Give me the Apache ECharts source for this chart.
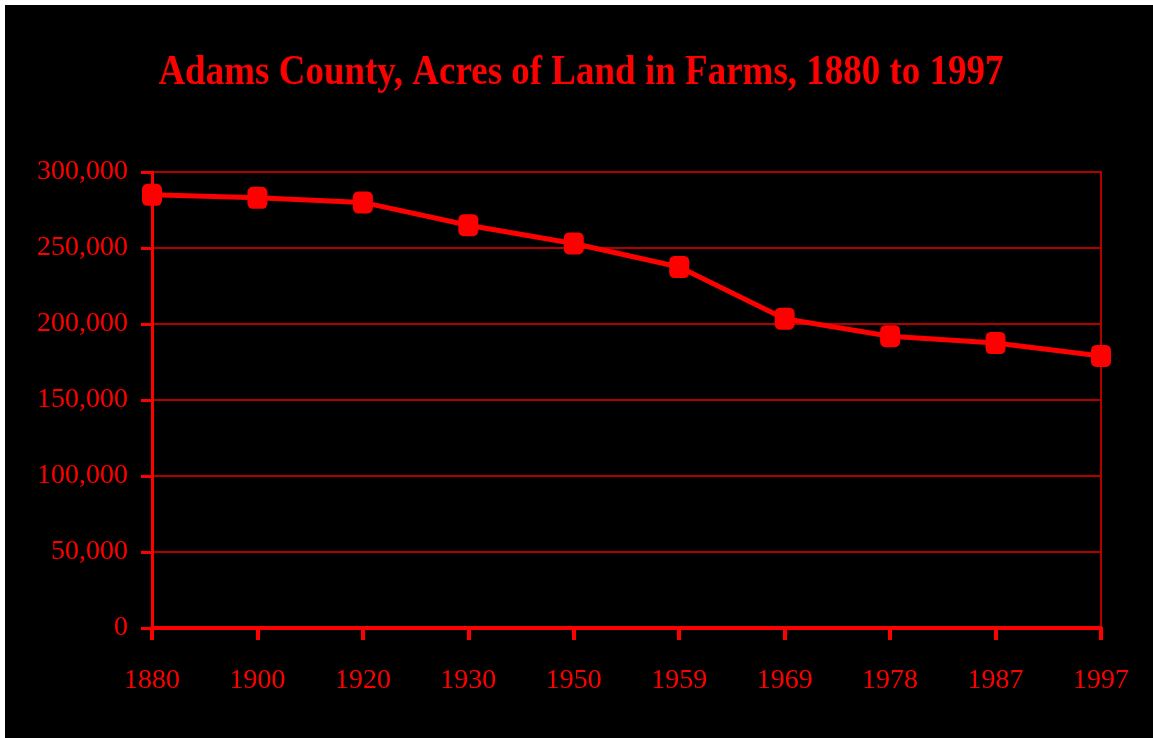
<!DOCTYPE html>
<html>
<head>
<meta charset="utf-8">
<script src="https://cdn.jsdelivr.net/npm/echarts@6/dist/echarts.min.js"></script>
<style>
  html, body { margin: 0; padding: 0; background: #ffffff; }
  #chart { position: absolute; left: 5px; top: 5px; width: 1148px; height: 733px; background: #000000; }
</style>
</head>
<body>
<div id="chart"></div>
<script>
const titleText = 'Adams County, Acres of Land in Farms, 1880 to 1997';
const years = ['1880', '1900', '1920', '1930', '1950', '1959', '1969', '1978', '1987', '1997'];
const acres = [285000, 283000, 280000, 265000, 253000, 237500, 203500, 192000, 187500, 179000];
const yTicks = { min: 0, max: 300000, interval: 50000 };

const chart = echarts.init(document.getElementById('chart'), null, { renderer: 'canvas' });
const font = '"Liberation Serif", "Times New Roman", serif';
chart.setOption({
  backgroundColor: '#000000',
  animation: false,
  graphic: [{
    type: 'text',
    x: 576,
    y: 68,
    scaleX: 0.925,
    scaleY: 1.05,
    originX: 0,
    style: {
      text: titleText,
      fill: '#ff0000',
      font: 'bold 40px ' + font,
      align: 'center',
      verticalAlign: 'middle'
    }
  }],
  grid: {
    left: 147, right: 52, top: 167, bottom: 110,
    show: true, borderColor: '#b00000', borderWidth: 2, backgroundColor: 'transparent'
  },
  xAxis: {
    type: 'category',
    data: years,
    boundaryGap: false,
    axisLine: { lineStyle: { color: '#ff0000', width: 4 } },
    axisTick: { show: true, length: 12, lineStyle: { color: '#ff0000', width: 4 } },
    axisLabel: { color: '#ff0000', fontFamily: font, fontSize: 28, margin: 39 },
    splitLine: { show: false }
  },
  yAxis: {
    type: 'value',
    min: yTicks.min, max: yTicks.max, interval: yTicks.interval,
    axisLine: { show: true, lineStyle: { color: '#ff0000', width: 3 } },
    axisTick: { show: true, length: 11, lineStyle: { color: '#ff0000', width: 3 } },
    axisLabel: {
      color: '#ff0000', fontFamily: font, fontSize: 28, margin: 24,
      formatter: v => v.toLocaleString('en-US')
    },
    splitLine: { show: true, lineStyle: { color: '#b00000', width: 2 } }
  },
  series: [{
    type: 'line',
    data: acres,
    symbol: 'roundRect',
    symbolSize: [20, 22],
    itemStyle: { color: '#ff0000' },
    lineStyle: { color: '#ff0000', width: 5 }
  }]
});
</script>
</body>
</html>
